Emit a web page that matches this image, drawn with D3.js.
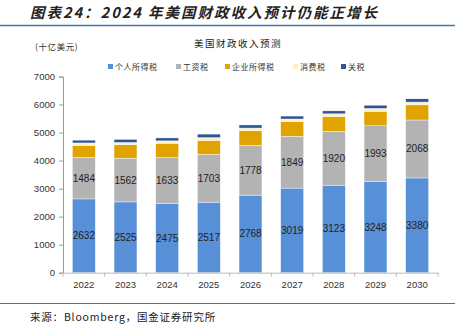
<!DOCTYPE html>
<html><head><meta charset="utf-8">
<script src="https://cdn.jsdelivr.net/npm/d3@7"></script>
<style>
html,body{margin:0;padding:0;background:#fff;}
svg{display:block;}
</style></head>
<body>
<svg id="c" width="455" height="327"></svg>
<script>
const years = ["2022","2023","2024","2025","2026","2027","2028","2029","2030"];
const personal = [2632,2525,2475,2517,2768,3019,3123,3248,3380];
const payroll = [1484,1562,1633,1703,1778,1849,1920,1993,2068];
const corporate = [425,480,510,500,520,520,530,520,540];
const excise = [88,80,85,100,95,95,95,100,100];
const customs = [100,110,105,125,110,105,105,115,115];
const seriesNames = ["个人所得税","工资税","企业所得税","消费税","关税"];
const seriesColors = ["#5890D8","#B3B3B3","#E0A300","#FFF0C8","#2C5595"];
const yTicks = [0,1000,2000,3000,4000,5000,6000,7000];

const svg = d3.select("#c");
const cjk = "'Noto Sans CJK SC', sans-serif";
const num = "'Liberation Sans', Arial, sans-serif";

// header
svg.append("text").attr("x",30).attr("y",18).attr("font-family",cjk)
  .attr("font-size",14.5).attr("font-weight","bold").attr("font-style","italic")
  .attr("letter-spacing",2).attr("fill","#222").text("图表24：2024 年美国财政收入预计仍能正增长");
svg.append("line").attr("x1",0).attr("x2",455).attr("y1",25.5).attr("y2",25.5)
  .attr("stroke","#3F7AA6").attr("stroke-width",1.5);
svg.append("line").attr("x1",0).attr("x2",455).attr("y1",303.5).attr("y2",303.5)
  .attr("stroke","#3F7AA6").attr("stroke-width",1);
svg.append("text").attr("x",30).attr("y",321).attr("font-family",cjk)
  .attr("font-size",10.5).attr("letter-spacing",0.8).attr("fill","#222").text("来源：Bloomberg，国金证券研究所");

svg.append("text").attr("x",35).attr("y",50).attr("font-family",cjk)
  .attr("font-size",8.5).attr("letter-spacing",0.6).attr("fill","#333").text("(十亿美元)");
svg.append("text").attr("x",238).attr("y",47).attr("text-anchor","middle").attr("font-family",cjk)
  .attr("font-size",9.5).attr("letter-spacing",1.5).attr("fill","#222").text("美国财政收入预测");

// legend
const legX = [108,176,225,293,341];
seriesNames.forEach((n,i)=>{
  svg.append("rect").attr("x",legX[i]).attr("y",64).attr("width",5).attr("height",5).attr("fill",seriesColors[i]);
  svg.append("text").attr("x",legX[i]+7).attr("y",69.5).attr("font-family",cjk)
    .attr("font-size",8).attr("letter-spacing",0.5).attr("fill","#333").text(n);
});

const x = d3.scaleBand().domain(years).range([63,438]).paddingInner(0.45).paddingOuter(0.225);
const y = d3.scaleLinear().domain([0,7000]).range([272.7,76.5]);

const data = years.map((yr,i)=>({year:yr, s0:personal[i], s1:payroll[i], s2:corporate[i], s3:excise[i], s4:customs[i]}));
const stack = d3.stack().keys(["s0","s1","s2","s3","s4"])(data);

const g = svg.append("g");
stack.forEach((layer,li)=>{
  g.selectAll(null).data(layer).enter().append("rect")
    .attr("x",d=>x(d.data.year)).attr("width",x.bandwidth())
    .attr("y",d=>y(d[1])).attr("height",d=>y(d[0])-y(d[1]))
    .attr("fill",seriesColors[li]).attr("stroke","#fff").attr("stroke-width",0.4);
});
// value labels
[0,1].forEach(li=>{
  g.selectAll(null).data(stack[li]).enter().append("text")
    .attr("x",d=>x(d.data.year)+x.bandwidth()/2).attr("y",d=>y((d[0]+d[1])/2)+3.5)
    .attr("text-anchor","middle").attr("font-family",num).attr("font-size",10)
    .attr("fill","#222").text(d=>d.data["s"+li]);
});

// axes
const ya = svg.append("g").attr("transform","translate(63,0)")
  .call(d3.axisLeft(y).tickValues(yTicks).tickSize(4).tickFormat(d3.format("d")));
ya.select(".domain").attr("stroke","#999");
ya.selectAll(".tick line").attr("stroke","#999");
ya.selectAll("text").attr("font-family",num).attr("font-size",9.5).attr("fill","#333").attr("dx",-1);

const xa = svg.append("g").attr("transform","translate(0,272.7)")
  .call(d3.axisBottom(x).tickSize(0).tickPadding(9));
xa.select(".domain").attr("stroke","#BBB");
xa.selectAll("text").attr("font-family",num).attr("font-size",9.5).attr("fill","#333");
// category separators ticks
const seps = years.map((yr)=>x(yr)-x.step()*x.paddingInner()/2).concat([438]);
xa.selectAll(null).data(seps).enter().append("line")
  .attr("x1",d=>d).attr("x2",d=>d).attr("y1",0).attr("y2",4).attr("stroke","#BBB");
</script>
</body></html>
